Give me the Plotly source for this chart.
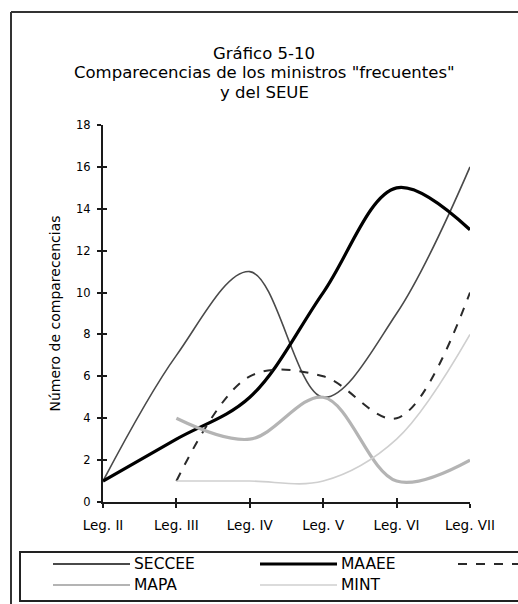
import plotly.graph_objects as go

# Legislaturas (eje X) y comparecencias por cargo
legislaturas = ["Leg. II", "Leg. III", "Leg. IV", "Leg. V", "Leg. VI", "Leg. VII"]
seccee = [1, 7, 11, 5, 9, 16]
maaee = [1, 3, 5, 10, 15, 13]
meh = [None, 1, 6, 6, 4, 10]
mapa = [None, 4, 3, 5, 1, 2]
mint = [None, 1, 1, 1, 3, 8]
y_ticks = [0, 2, 4, 6, 8, 10, 12, 14, 16, 18]

W, H = 518, 604
L, R, T, B = 103, 470, 125, 502  # plot area in pixels
FONT = "DejaVu Sans"
INK = "#000"


def px(x):
    return (x - L) / (R - L)


def py(y):
    return (B - y) / (B - T)


# name, values, line style in the plot, line width in the legend key
series = [
    ("SECCEE", seccee, dict(color="#4a4a4a", width=1.6), 2),
    ("MAAEE", maaee, dict(color="#000000", width=3.2), 3),
    ("MEH", meh, dict(color="#2a2a2a", width=2, dash="dash"), 2),
    ("MAPA", mapa, dict(color="#b4b4b4", width=3.2), 2),
    ("MINT", mint, dict(color="#cfcfcf", width=1.6), 1.5),
]

fig = go.Figure()
xs = list(range(len(legislaturas)))
for name, vals, line, _ in series:
    fig.add_trace(go.Scatter(
        x=xs, y=vals, name=name, mode="lines",
        line=dict(shape="spline", smoothing=1.0, **line),
        showlegend=False, hoverinfo="skip",
    ))

fig.update_layout(
    width=W, height=H,
    margin=dict(l=L, r=W - R, t=T, b=H - B, pad=0),
    paper_bgcolor="white", plot_bgcolor="white",
    showlegend=False,
    xaxis=dict(
        range=[0, len(legislaturas) - 1], tickvals=xs, ticktext=legislaturas,
        showgrid=False, zeroline=False, showline=True, linecolor="#1a1a1a",
        linewidth=2, ticks="outside", ticklen=4, tickwidth=1.5, tickcolor="#1a1a1a",
        tickfont=dict(family=FONT, size=13.5, color=INK), ticklabelstandoff=6,
    ),
    yaxis=dict(
        range=[0, 18], tickvals=y_ticks,
        showgrid=False, zeroline=False, showline=True, linecolor="#1a1a1a",
        linewidth=2, ticks="outside", ticklen=4, tickwidth=1.5, tickcolor="#1a1a1a",
        tickfont=dict(family=FONT, size=11.5, color=INK), ticklabelstandoff=4,
        title=dict(text="Número de comparecencias",
                   font=dict(family=FONT, size=14, color=INK), standoff=12),
    ),
    xaxis2=dict(
        overlaying="x", range=[0, len(legislaturas) - 1], tickvals=xs,
        showticklabels=False, showgrid=False, zeroline=False, showline=False,
        ticks="inside", ticklen=4, tickwidth=1.5, tickcolor="#1a1a1a", anchor="y",
    ),
    yaxis2=dict(
        overlaying="y", range=[0, 18], tickvals=y_ticks,
        showticklabels=False, showgrid=False, zeroline=False, showline=False,
        ticks="inside", ticklen=4, tickwidth=1.5, tickcolor="#1a1a1a", anchor="x",
    ),
)
# empty trace so the overlay axes (inner tick marks) get drawn
fig.add_trace(go.Scatter(x=[], y=[], xaxis="x2", yaxis="y2", showlegend=False))

# Title, three centred lines
title_lines = ["Gráfico 5-10",
               "Comparecencias de los ministros \"frecuentes\"",
               "y del SEUE"]
for i, txt in enumerate(title_lines):
    fig.add_annotation(
        text=txt, xref="paper", yref="paper", x=px(264), y=py(53 + i * 19.5),
        xanchor="center", yanchor="middle", showarrow=False,
        font=dict(family=FONT, size=16.5, color=INK),
    )

shapes = []
# outer chart frame
shapes.append(dict(type="line", xref="paper", yref="paper",
                   x0=px(11), y0=py(12), x1=px(530), y1=py(12),
                   line=dict(color="#333", width=2)))
shapes.append(dict(type="line", xref="paper", yref="paper",
                   x0=px(11), y0=py(12), x1=px(11), y1=py(620),
                   line=dict(color="#333", width=2)))
# legend box
shapes.append(dict(type="rect", xref="paper", yref="paper",
                   x0=px(20), y0=py(552), x1=px(540), y1=py(601),
                   line=dict(color="#222", width=2), fillcolor="rgba(0,0,0,0)"))

# legend samples; the third column's label lies past the right edge
legend_pos = [(53, 130, 564, True), (260, 337, 564, True), (458, 560, 564, False),
              (53, 130, 585, True), (260, 337, 585, True)]
for (name, _, line, key_w), (x0, x1, yy, labelled) in zip(series, legend_pos):
    lw = dict(line)
    lw["width"] = key_w
    shapes.append(dict(type="line", xref="paper", yref="paper",
                       x0=px(x0), y0=py(yy), x1=px(x1), y1=py(yy), line=lw))
    if labelled:
        fig.add_annotation(
            text=name, xref="paper", yref="paper", x=px(x1 + 2), y=py(yy),
            xanchor="left", yanchor="middle", showarrow=False,
            font=dict(family=FONT, size=15.5, color=INK),
        )
fig.update_layout(shapes=shapes)

fig.write_html("out.html")
